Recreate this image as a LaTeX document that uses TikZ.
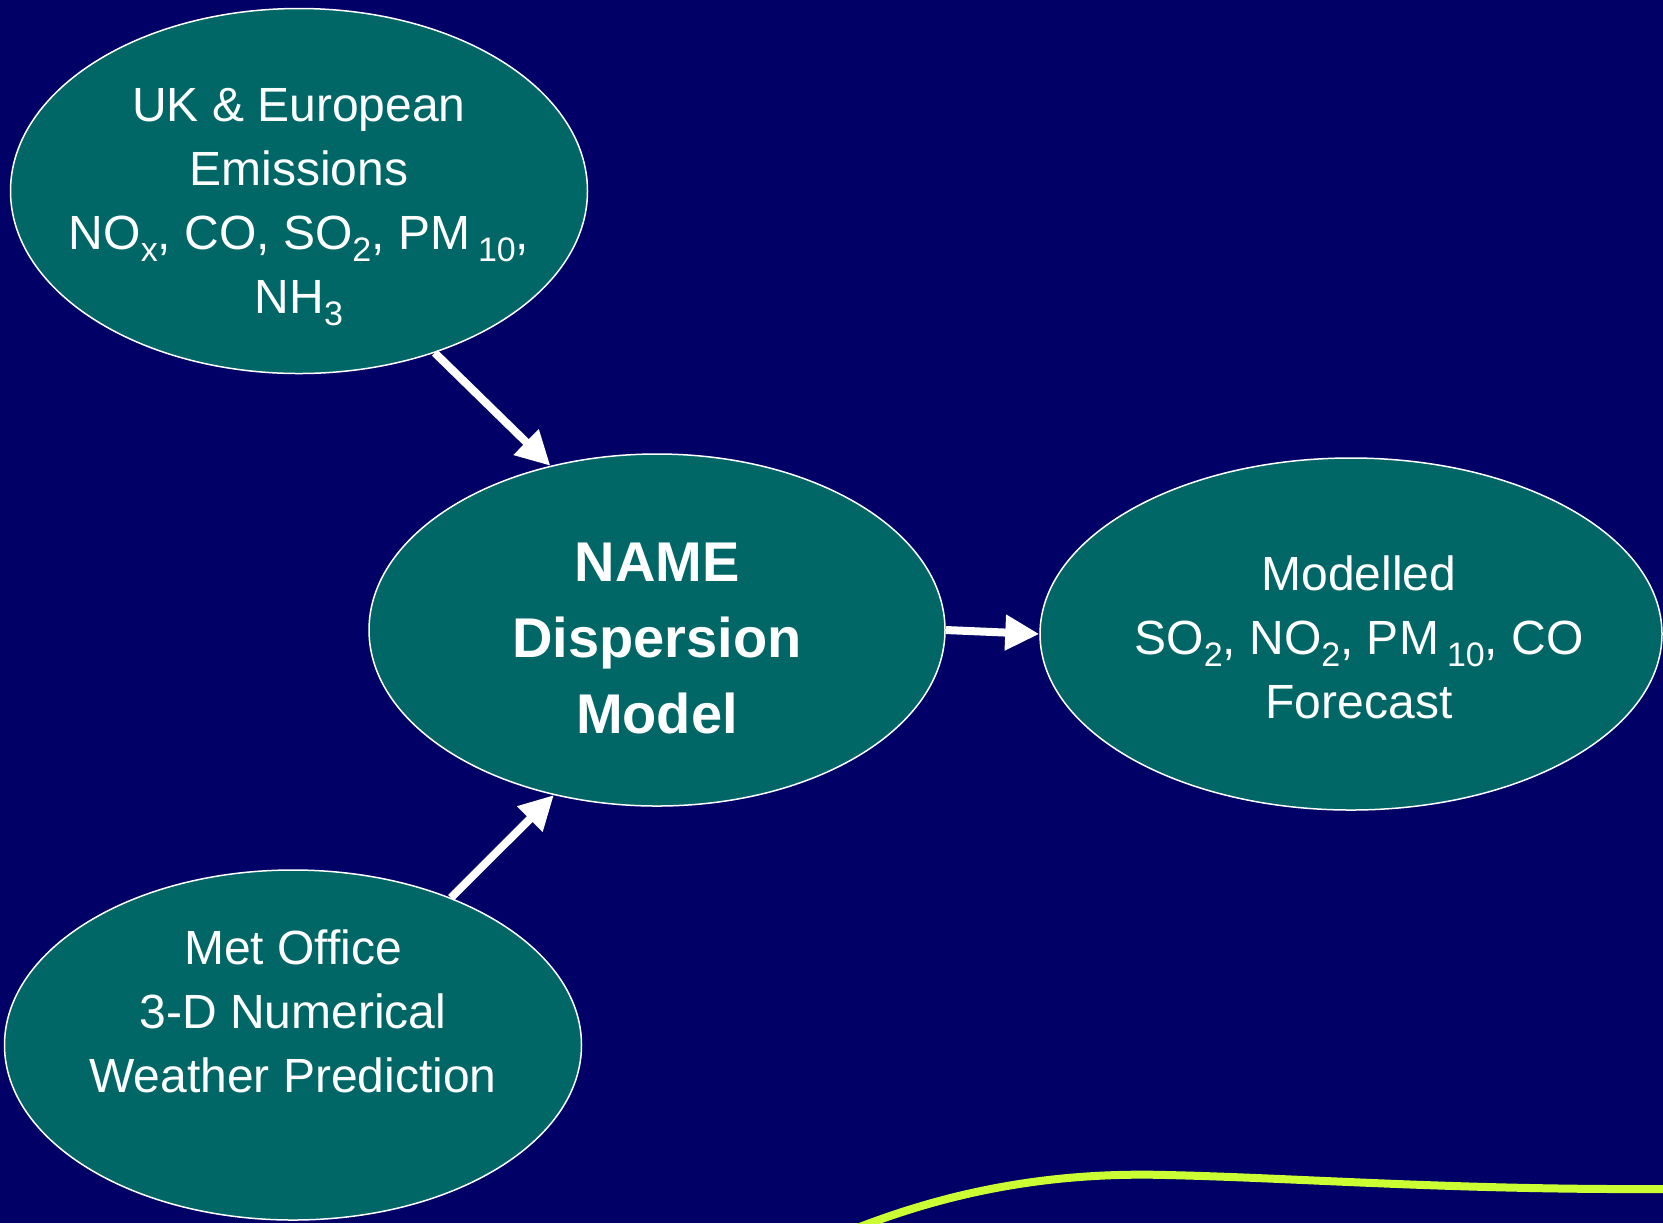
\documentclass[tikz,border=0pt]{standalone}
\usepackage{fontspec}
\setmainfont{Liberation Sans}
\usepackage{xcolor}
\usetikzlibrary{shapes.geometric,arrows.meta,positioning,calc}

\definecolor{navy}{HTML}{000066}
\definecolor{teal}{HTML}{006666}
\definecolor{lime}{HTML}{CCFF33}

\newcommand{\chemsub}[1]{\raisebox{-6pt}{\fontsize{17}{17}\selectfont #1}}

\tikzset{
  bubble/.style={ellipse, draw=white, line width=0.75pt, fill=teal, inner sep=0pt},
  blurb/.style={text=white, align=center, font=\fontsize{24}{32}\selectfont},
  flow/.style={draw=white, line width=4pt, -{Triangle[length=17pt,width=17pt]}},
}

\begin{document}
\begin{tikzpicture}[x=0.5pt, y=-0.5pt]
    \useasboundingbox (0,0) rectangle (1663,1223);
    \fill[navy] (0,0) rectangle (1663,1223);

    % inputs
    \node[bubble, minimum width=288.5pt, minimum height=182.5pt] (emis) at (299,191) {};
    \node[blurb] (emistext) at ($(emis.center)+(0,16)$)
        {UK \& European\\Emissions\\NO\chemsub{x}, CO, SO\chemsub{2}, PM\,\chemsub{10},\\NH\chemsub{3}};
    \node[bubble, minimum width=288.5pt, minimum height=175pt] (met) at (293,1045) {};
    \node[blurb] (mettext) at ($(met.center)+(0,-34)$)
        {Met Office\\3-D Numerical\\Weather Prediction};

    % model
    \node[bubble, minimum width=288pt, minimum height=176pt] (name) at (657,630) {};
    \node[blurb, font=\fontsize{28}{38}\selectfont\bfseries] (nametext) at ($(name.center)+(0,8)$)
        {NAME\\Dispersion\\Model};

    % output
    \node[bubble, minimum width=311pt, minimum height=176pt] (fcst) at (1351,634) {};
    \node[blurb] (fcsttext) at ($(fcst.center)+(8,3)$)
        {Modelled\\SO\chemsub{2}, NO\chemsub{2}, PM\,\chemsub{10}, CO\\Forecast};

    % arrows
    \draw[flow] (emis.-50) -- (name.123);
    \draw[flow] (met.43.7) -- (name.-122.5);
    \draw[flow] (name.east) -- (fcst.west);

    % swoosh
    \draw[lime, line width=4pt] (857,1228) .. controls (960,1188) and (1060,1172) .. (1167,1175)
        .. controls (1300,1178) and (1450,1190) .. (1663,1189);
\end{tikzpicture}
\end{document}
